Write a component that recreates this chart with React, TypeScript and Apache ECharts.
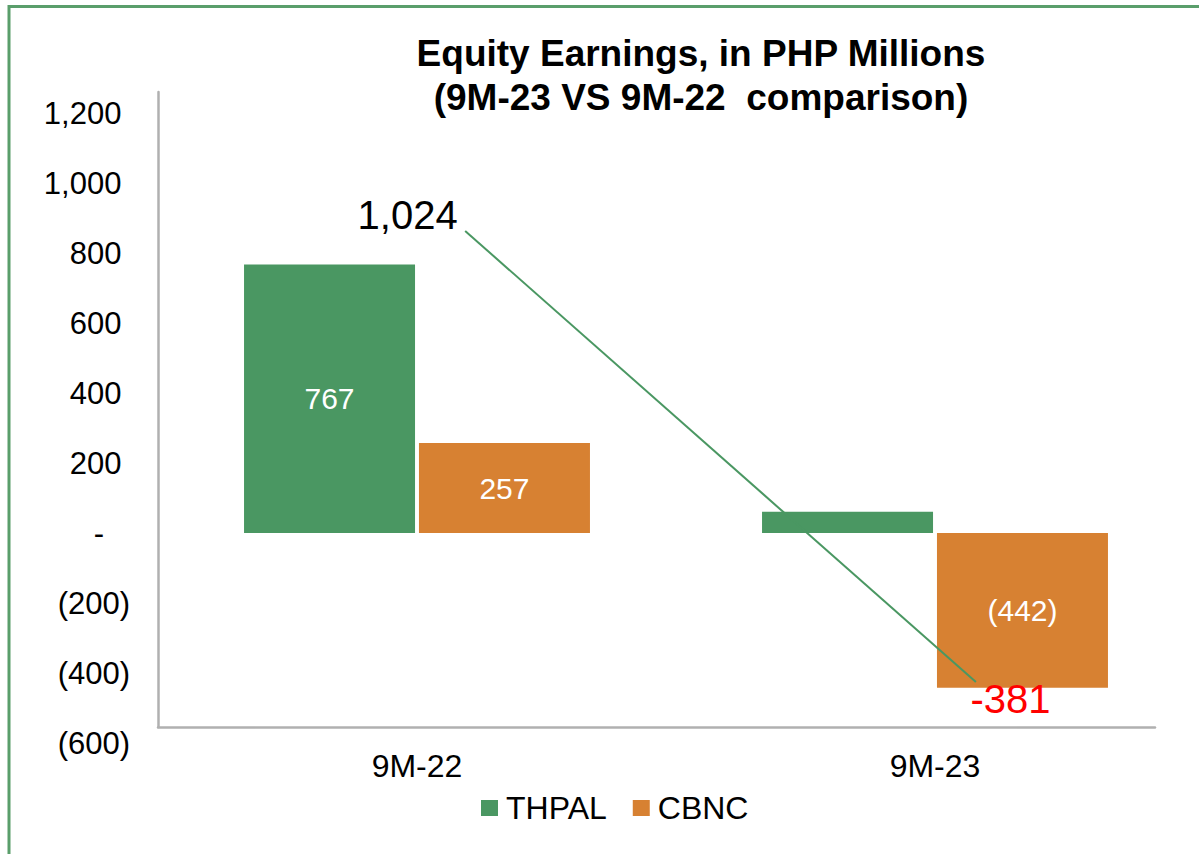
import React, { useEffect, useRef } from "react";
import * as echarts from "echarts";

const categories = ["9M-22", "9M-23"];
const thpal = [767, 61];
const cbnc = [257, -442];
const totals = [1024, -381];
// connector annotation drawn between the total labels (x in category units, y in PHP millions)
const connectorX = [0.093, 1.079];
const connectorY = [863, -426];
const yTicks = { min: -600, max: 1200, interval: 200 };

const FONT = "'Liberation Sans', Arial, sans-serif";
const GREEN = "#4a9762";
const ORANGE = "#d78132";

function fmtNum(v: number): string {
  return Math.abs(v).toLocaleString("en-US");
}
function fmtAxis(v: number): string {
  if (v === 0) return "-\u00A0\u00A0\u00A0";
  if (v < 0) return "(" + fmtNum(v) + ")";
  return fmtNum(v) + "\u00A0";
}
function fmtBar(v: number): string {
  return v < 0 ? "(" + fmtNum(v) + ")" : fmtNum(v);
}

export default function App() {
  const ref = useRef<HTMLDivElement>(null);
  useEffect(() => {
    if (!ref.current) return;
    const chart = echarts.init(ref.current, null, { renderer: "svg" });
    const barLabel = {
      show: true,
      position: "inside",
      color: "#ffffff",
      fontSize: 30,
      fontFamily: FONT,
      formatter: (p: any) => fmtBar(p.value),
    };
    const mkBarData = (arr: number[]) =>
      arr.map((v) => (Math.abs(v) < 100 ? { value: v, label: { show: false } } : v));
    chart.setOption({
      animation: false,
      backgroundColor: "#ffffff",
      textStyle: { fontFamily: FONT },
      title: {
        text: "Equity Earnings, in PHP Millions\n(9M-23 VS 9M-22  comparison)",
        left: 701,
        top: 31,
        padding: 0,
        textAlign: "center",
        textStyle: {
          fontSize: 37,
          fontWeight: "bold",
          color: "#000000",
          lineHeight: 44,
          fontFamily: FONT,
        },
      },
      legend: {
        left: 481,
        top: 792,
        padding: 0,
        icon: "rect",
        itemWidth: 17,
        itemHeight: 16,
        itemGap: 26,
        textStyle: { fontSize: 32, color: "#000000", fontFamily: FONT, padding: [0, 0, 0, 3] },
        data: ["THPAL", "CBNC"],
      },
      graphic: [
        {
          type: "rect",
          shape: { x: 9, y: 6.5, width: 1200, height: 900 },
          style: { fill: "none", stroke: "#5a9e6b", lineWidth: 3 },
          silent: true,
        },
      ],
      grid: [
        { left: 158, right: 5, top: 113, height: 630 },
        { left: 158, top: 92, width: 997, height: 635 },
      ],
      xAxis: [
        {
          type: "category",
          gridIndex: 0,
          data: categories,
          axisLine: { show: false },
          axisTick: { show: false },
          axisLabel: { fontSize: 32, color: "#000000", margin: 7, fontFamily: FONT },
        },
        {
          type: "category",
          gridIndex: 1,
          data: [""],
          axisLine: { show: true, lineStyle: { color: "#b0b0b0", width: 2.5 } },
          axisTick: { show: false },
          axisLabel: { show: false },
        },
        {
          type: "value",
          gridIndex: 0,
          min: -0.5,
          max: 1.5,
          show: false,
        },
      ],
      yAxis: [
        {
          type: "value",
          gridIndex: 0,
          min: yTicks.min,
          max: yTicks.max,
          interval: yTicks.interval,
          axisLine: { show: false },
          axisTick: { show: false },
          splitLine: { show: false },
          axisLabel: {
            fontSize: 31,
            color: "#000000",
            margin: 28,
            fontFamily: FONT,
            formatter: (v: number) => fmtAxis(v),
          },
        },
        {
          type: "value",
          gridIndex: 1,
          min: 0,
          max: 1,
          axisLine: { show: true, lineStyle: { color: "#b0b0b0", width: 2.5 } },
          axisTick: { show: false },
          splitLine: { show: false },
          axisLabel: { show: false },
        },
      ],
      series: [
        {
          name: "THPAL",
          type: "bar",
          xAxisIndex: 0,
          yAxisIndex: 0,
          data: mkBarData(thpal),
          barWidth: 171,
          barGap: "2.3%",
          itemStyle: { color: GREEN },
          label: barLabel,
        },
        {
          name: "CBNC",
          type: "bar",
          xAxisIndex: 0,
          yAxisIndex: 0,
          data: mkBarData(cbnc),
          barWidth: 171,
          barGap: "2.3%",
          itemStyle: { color: ORANGE },
          label: barLabel,
        },
        {
          name: "Total",
          type: "line",
          xAxisIndex: 2,
          yAxisIndex: 0,
          symbol: "circle",
          symbolSize: 1,
          showSymbol: true,
          z: 5,
          lineStyle: { color: GREEN, width: 2 },
          itemStyle: { color: "rgba(0,0,0,0)" },
          data: connectorX.map((x, i) => ({
            value: [x, connectorY[i]],
            label:
              i === 0
                ? {
                    show: true,
                    position: "left",
                    distance: 7,
                    offset: [0, -16],
                    fontSize: 40,
                    color: "#000000",
                    fontFamily: FONT,
                    formatter: () => totals[0].toLocaleString("en-US"),
                  }
                : {
                    show: true,
                    position: "right",
                    distance: 0,
                    offset: [-6, 17],
                    fontSize: 40,
                    color: "#ff0000",
                    fontFamily: FONT,
                    formatter: () => String(totals[1]),
                  },
          })),
        },
      ],
    });
    return () => chart.dispose();
  }, []);
  return (
    <div
      ref={ref}
      style={{ position: "absolute", left: 0, top: 0, width: 1199, height: 854 }}
    />
  );
}
